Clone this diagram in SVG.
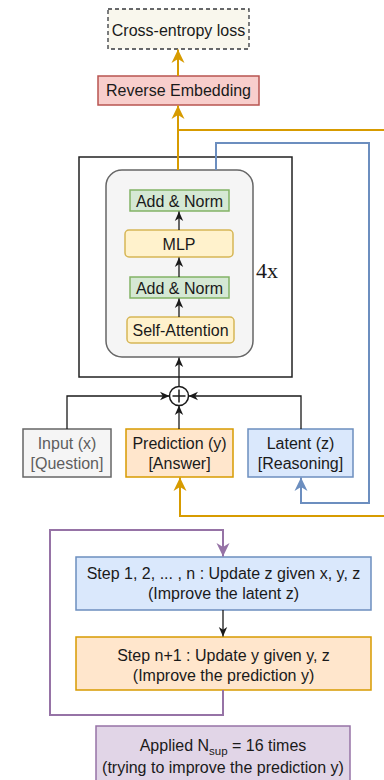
<svg xmlns="http://www.w3.org/2000/svg" width="384" height="780" viewBox="0 0 384 780">
  <style>
    text { font-family: "Liberation Sans", Arial, sans-serif; font-size: 16px; fill: #1a1a1a; text-anchor: middle; }
    .serif { font-family: "Liberation Serif", "Times New Roman", serif; font-size: 22px; text-anchor: start; }
    .muted { fill: #5e5e5e; }
    .green { fill: #d5e8d4; stroke: #82b366; stroke-width: 1.5; }
    .yellow { fill: #fff2cc; stroke: #d6b656; stroke-width: 1.5; }
    .orange { fill: #ffe6cc; stroke: #d79b00; stroke-width: 1.5; }
    .blue { fill: #dae8fc; stroke: #6c8ebf; stroke-width: 1.5; }
    .grey { fill: #f5f5f5; stroke: #666666; stroke-width: 1.5; }
    .red { fill: #f8cecc; stroke: #b85450; stroke-width: 1.5; }
    .purple { fill: #e1d5e7; stroke: #9673a6; stroke-width: 1.5; }
    .wire { fill: none; stroke: #1a1a1a; stroke-width: 1.3; }
    .wire-o { fill: none; stroke: #d79b00; stroke-width: 2; }
    .wire-b { fill: none; stroke: #6c8ebf; stroke-width: 2; }
    .wire-p { fill: none; stroke: #9673a6; stroke-width: 2; }
  </style>
  <defs>
    <marker id="arrK" markerUnits="userSpaceOnUse" markerWidth="10" markerHeight="10" viewBox="0 0 10 10" refX="9.5" refY="5" orient="auto">
      <path d="M0,0.8 L9.5,5 L0,9.2 L2.8,5 z" fill="#1a1a1a"/>
    </marker>
    <marker id="arrO" markerUnits="userSpaceOnUse" markerWidth="14" markerHeight="14" viewBox="0 0 14 14" refX="13.5" refY="7" orient="auto">
      <path d="M0,0.5 L13.5,7 L0,13.5 L4,7 z" fill="#d79b00"/>
    </marker>
    <marker id="arrB" markerUnits="userSpaceOnUse" markerWidth="14" markerHeight="14" viewBox="0 0 14 14" refX="13.5" refY="7" orient="auto">
      <path d="M0,0.5 L13.5,7 L0,13.5 L4,7 z" fill="#6c8ebf"/>
    </marker>
    <marker id="arrP" markerUnits="userSpaceOnUse" markerWidth="14" markerHeight="14" viewBox="0 0 14 14" refX="13.5" refY="7" orient="auto">
      <path d="M0,0.5 L13.5,7 L0,13.5 L4,7 z" fill="#9673a6"/>
    </marker>
  </defs>

  <rect width="384" height="780" fill="#ffffff"/>

  <!-- transformer block frame -->
  <g id="block">
    <rect x="79" y="157" width="213" height="220" fill="#ffffff" stroke="#222222" stroke-width="1.5"/>
    <rect x="106" y="170" width="147" height="187" rx="16" fill="#f5f5f5" stroke="#666666" stroke-width="1.5"/>
    <text class="serif" x="256" y="278">4x</text>
  </g>

  <g id="loss">
    <rect x="108" y="9" width="141" height="40" fill="#f9f7ed" stroke="#36393d" stroke-width="1.3" stroke-dasharray="4 3"/>
    <text x="178.5" y="35.5">Cross-entropy loss</text>
  </g>
  <g id="rev-embed">
    <rect class="red" x="98" y="76" width="161" height="29"/>
    <text x="178.5" y="96">Reverse Embedding</text>
  </g>
  <g id="add-norm-2">
    <rect class="green" x="130" y="190" width="99" height="21"/>
    <text x="179.5" y="206.5">Add &amp; Norm</text>
  </g>
  <g id="mlp">
    <rect class="yellow" x="125" y="230" width="108" height="27" rx="4"/>
    <text x="179" y="249.5">MLP</text>
  </g>
  <g id="add-norm-1">
    <rect class="green" x="130" y="277" width="99" height="21"/>
    <text x="179.5" y="293.5">Add &amp; Norm</text>
  </g>
  <g id="self-attn">
    <rect class="yellow" x="127" y="317" width="107" height="26" rx="4"/>
    <text x="180.5" y="336">Self-Attention</text>
  </g>

  <g id="sum">
    <circle cx="179" cy="396" r="9.5" fill="#ffffff" stroke="#1a1a1a" stroke-width="1.5"/>
    <path d="M172.5,396 H185.5 M179,389.5 V402.5" stroke="#1a1a1a" stroke-width="1.5"/>
  </g>

  <g id="input-x">
    <rect class="grey" x="23" y="429" width="88" height="48"/>
    <text class="muted" x="67" y="449">Input (x)</text>
    <text class="muted" x="67" y="469">[Question]</text>
  </g>
  <g id="pred-y">
    <rect class="orange" x="126" y="429" width="107" height="48"/>
    <text x="179.5" y="449">Prediction (y)</text>
    <text x="179.5" y="469">[Answer]</text>
  </g>
  <g id="latent-z">
    <rect class="blue" x="248" y="429" width="105" height="48"/>
    <text x="300.5" y="449">Latent (z)</text>
    <text x="300.5" y="469">[Reasoning]</text>
  </g>

  <g id="step-z">
    <rect class="blue" x="76" y="557" width="295" height="53"/>
    <text x="223.5" y="578.5">Step 1, 2, ... , n : Update z given x, y, z</text>
    <text x="223.5" y="598.5">(Improve the latent z)</text>
  </g>
  <g id="step-y">
    <rect class="orange" x="76" y="637" width="295" height="53"/>
    <text x="223.5" y="660.5">Step n+1 : Update y given y, z</text>
    <text x="223.5" y="680.5">(Improve the prediction y)</text>
  </g>
  <g id="applied">
    <rect class="purple" x="96" y="726" width="254" height="70"/>
    <text x="223" y="750.5">Applied N<tspan font-size="11.5" dy="4">sup</tspan><tspan dy="-4"> = 16 times</tspan></text>
    <text x="223" y="772.5">(trying to improve the prediction y)</text>
  </g>

  <g id="connectors">
    <!-- inside the block -->
    <path class="wire" d="M179,317 V298.5" marker-end="url(#arrK)"/>
    <path class="wire" d="M179,277 V257.5" marker-end="url(#arrK)"/>
    <path class="wire" d="M179,230 V211.5" marker-end="url(#arrK)"/>
    <path class="wire" d="M179,386.5 V357.5" marker-end="url(#arrK)"/>
    <!-- inputs into the sum -->
    <path class="wire" d="M67,429 V396 H169.5" marker-end="url(#arrK)"/>
    <path class="wire" d="M301,429 V396 H188.5" marker-end="url(#arrK)"/>
    <path class="wire" d="M179,429 V405.5" marker-end="url(#arrK)"/>
    <!-- output head -->
    <path class="wire-o" d="M178,170 V105.5" marker-end="url(#arrO)"/>
    <path class="wire-o" d="M178,76 V49.5" marker-end="url(#arrO)"/>
    <!-- feedback of y -->
    <path class="wire-o" d="M178,130 H392 V516 H180 V477.5" marker-end="url(#arrO)"/>
    <!-- feedback of z -->
    <path class="wire-b" d="M216,170 V143 H369 V503 H301 V477.5" marker-end="url(#arrB)"/>
    <!-- recursion loop -->
    <path class="wire" d="M223,610 V636.5" marker-end="url(#arrK)"/>
    <path class="wire-p" d="M223,690 V715 H50 V530 H223 V556.5" marker-end="url(#arrP)"/>
  </g>
</svg>
